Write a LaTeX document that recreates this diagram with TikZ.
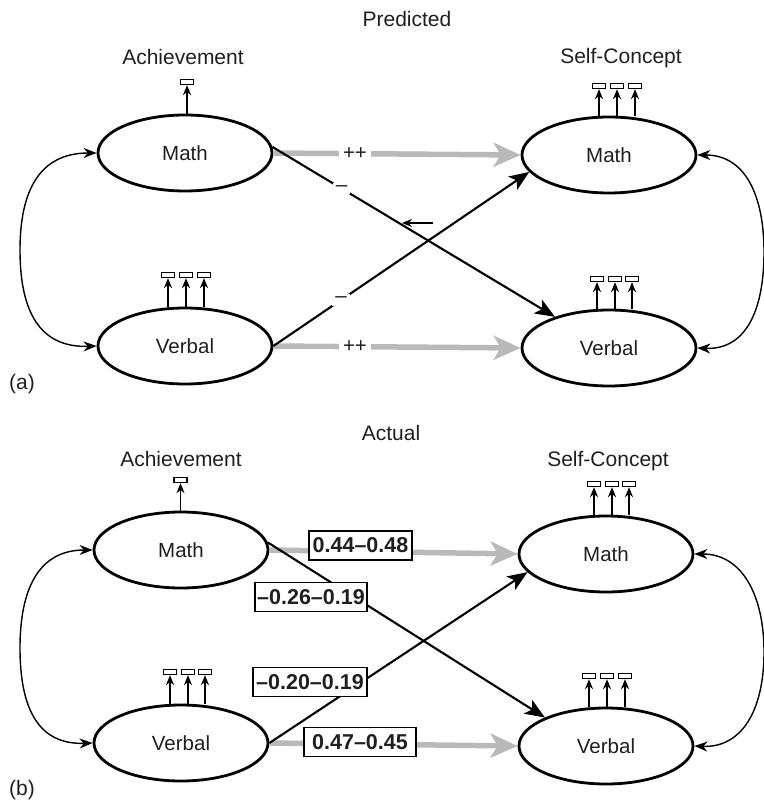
\documentclass[tikz,border=0pt]{standalone}
\usepackage{fontspec}
\setmainfont{Liberation Sans}
\usetikzlibrary{shapes.geometric,arrows.meta}
\begin{document}
\begin{tikzpicture}[x=1pt,y=-1pt,
  every node/.style={text=black!88},
  lat/.style={ellipse, draw=black, line width=2.8pt, minimum width=174pt, minimum height=76pt, inner sep=0pt, font=\fontsize{20.5}{24}\selectfont},
  ind/.style={rectangle, draw=black, line width=1.3pt, minimum width=13pt, minimum height=5pt, inner sep=0pt},
  load/.style={line width=1.4pt, -{Stealth[length=10pt,width=8pt]}},
  garr/.style={draw=gray!55, line width=5.5pt, -{Stealth[length=27pt,width=24pt,inset=7pt]}},
  barr/.style={line width=2.1pt, -{Stealth[length=20pt,width=16pt,inset=5pt]}},
  cov/.style={line width=1.4pt, {Stealth[length=13pt,width=10pt]}-{Stealth[length=13pt,width=10pt]}},
  lbl/.style={font=\fontsize{21}{25}\selectfont},
  sgn/.style={fill=white, inner sep=4pt, font=\fontsize{20.5}{24}\selectfont},
  coef/.style={draw=black, fill=white, line width=1.4pt, font=\bfseries\fontsize{21.5}{25}\selectfont, minimum height=29pt, inner sep=2pt}
]
\useasboundingbox (0,0) rectangle (763,802);

% ---------------- Panel (a) ----------------
\node[lbl] (tpa) at (407,19) {Predicted};
\node[lbl] (acha) at (183,57) {Achievement};
\node[lbl] (sca) at (621,58) {Self-Concept};
\node[lbl] (pa) at (22,384) {(a)};

\node[lat] (ma) at (185,153) {Math};
\node[lat] (va) at (185,346) {Verbal};
\node[lat] (ms) at (609,155) {Math};
\node[lat] (vs) at (609,348) {Verbal};

% indicators
\node[ind] (ma1) at (187,82) {};
\node[ind] (va1) at (168,275) {};
\node[ind] (va2) at (186,275) {};
\node[ind] (va3) at (204,275) {};
\node[ind] (ms1) at (599,86) {};
\node[ind] (ms2) at (617,86) {};
\node[ind] (ms3) at (635,86) {};
\node[ind] (vs1) at (597,279) {};
\node[ind] (vs2) at (615,279) {};
\node[ind] (vs3) at (632,279) {};
\foreach \i/\e in {ma1/ma,va1/va,va2/va,va3/va,ms1/ms,ms2/ms,ms3/ms,vs1/vs,vs2/vs,vs3/vs}
  \draw[load] (\i |- \e.north) -- (\i.south);

% structural paths
\draw[garr] (ma.east) -- (ms.west) node[pos=0.33, sgn, text=black!88] (ppa) {++};
\draw[garr] (va.east) -- (vs.west) node[pos=0.33, sgn, text=black!88] (ppb) {++};
\draw[barr] (ma.4) -- (vs.150) node[pos=0.245, sgn, inner sep=3pt] (mna) {--};
\draw[barr] (va.east) -- (ms.192) node[pos=0.265, sgn, inner sep=3pt] (mnb) {--};

\coordinate (sa1) at (433,223);
\coordinate (sa2) at (402,223);
\draw[load] (sa1) -- (sa2);

% covariances
\draw[cov] (ma.west) .. controls (40,153) and (20,190) .. (20,250) .. controls (20,312) and (40,348) .. (va.west);
\draw[cov] (ms.east) .. controls (745,155) and (764,195) .. (764,252) .. controls (764,312) and (745,350) .. (vs.east);

% ---------------- Panel (b) ----------------
\node[lbl] (tpb) at (391,433) {Actual};
\node[lbl] (achb) at (181,459) {Achievement};
\node[lbl] (scb) at (608,461) {Self-Concept};
\node[lbl] (pb) at (22,790) {(b)};

\node[lat] (mb) at (181,550) {Math};
\node[lat] (vb) at (181,743) {Verbal};
\node[lat] (msb) at (606,554) {Math};
\node[lat] (vsb) at (606,746) {Verbal};

\node[ind] (mb1) at (180.5,480) {};
\node[ind] (vb1) at (170,672) {};
\node[ind] (vb2) at (188,672) {};
\node[ind] (vb3) at (205,672) {};
\node[ind] (msb1) at (594,484) {};
\node[ind] (msb2) at (612,484) {};
\node[ind] (msb3) at (629,484) {};
\node[ind] (vsb1) at (589,676) {};
\node[ind] (vsb2) at (607,676) {};
\node[ind] (vsb3) at (625,676) {};
\foreach \i/\e in {mb1/mb,vb1/vb,vb2/vb,vb3/vb,msb1/msb,msb2/msb,msb3/msb,vsb1/vsb,vsb2/vsb,vsb3/vsb}
  \draw[load] (\i |- \e.north) -- (\i.south);

\draw[garr] (mb.east) -- (msb.west);
\draw[garr] (vb.east) -- (vsb.west);
\draw[barr] (mb.5) -- (vsb.155);
\draw[barr] (vb.east) -- (msb.193);

\draw[cov] (mb.west) .. controls (38,550) and (20,590) .. (20,648) .. controls (20,708) and (38,745) .. (vb.west);
\draw[cov] (msb.east) .. controls (742,554) and (764,595) .. (764,652) .. controls (764,710) and (742,748) .. (vsb.east);

\node[coef, minimum width=103pt] (c1) at (360.5,545.5) {0.44--0.48};
\node[coef, minimum width=112pt] (c2) at (311,597) {--0.26--0.19};
\node[coef, minimum width=114pt] (c3) at (310,682) {--0.20--0.19};
\node[coef, minimum width=112pt] (c4) at (360,742) {0.47--0.45};
\end{tikzpicture}
\end{document}
